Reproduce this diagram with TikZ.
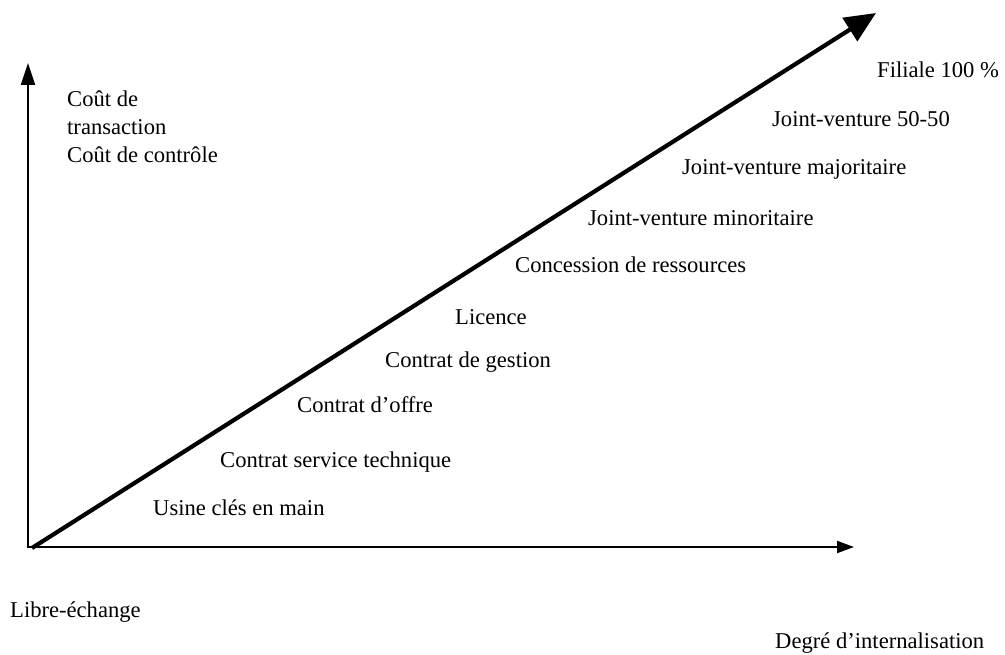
\documentclass[tikz,border=0pt]{standalone}
\usepackage{fontspec}
\setmainfont{Liberation Serif}
\usetikzlibrary{arrows.meta}
\begin{document}
\begin{tikzpicture}[x=1bp,y=-1bp,
  lbl/.style={anchor=base west,inner sep=0pt,font=\fontsize{22.6bp}{28bp}\selectfont},
  axis/.style={line width=2bp,-{Triangle[length=17bp,width=12bp]}},
  yaxis/.style={line width=2bp,-{Triangle[length=22bp,width=14bp]}},
  diag/.style={line width=4.2bp,line cap=butt,-{Triangle[length=31bp,width=27bp]}}]
\useasboundingbox (0,0) rectangle (1005,655);
% axes and the diagonal trend arrow
\coordinate (o) at (28,548);
\coordinate (ytop) at (28,63);
\coordinate (xo) at (28,547);
\coordinate (xend) at (854,547);
\coordinate (d0) at (32,548);
\coordinate (d1) at (876,13);
\draw[yaxis] (o) -- (ytop);
\draw[axis] (xo) -- (xend);
\draw[diag] (d0) -- (d1);
% axis titles
\node[lbl] (yl1) at (67,107) {Coût de};
\node[lbl] (yl2) at (67,135) {transaction};
\node[lbl] (yl3) at (67,163) {Coût de contrôle};
\node[lbl] (xl0) at (10,617) {Libre-échange};
\node[lbl] (xl1) at (775,648) {Degré d’internalisation};
% entry modes, from least to most internalised
\node[lbl] (m1) at (153,515) {Usine clés en main};
\node[lbl] (m2) at (220,467) {Contrat service technique};
\node[lbl] (m3) at (297,412) {Contrat d’offre};
\node[lbl] (m4) at (385,367) {Contrat de gestion};
\node[lbl] (m5) at (455,324) {Licence};
\node[lbl] (m6) at (515,272) {Concession de ressources};
\node[lbl] (m7) at (588,225) {Joint-venture minoritaire};
\node[lbl] (m8) at (682,175) {Joint-venture majoritaire};
\node[lbl] (m9) at (772,127) {Joint-venture 50-50};
\node[lbl] (m10) at (877,78) {Filiale 100~\%};
\end{tikzpicture}
\end{document}
